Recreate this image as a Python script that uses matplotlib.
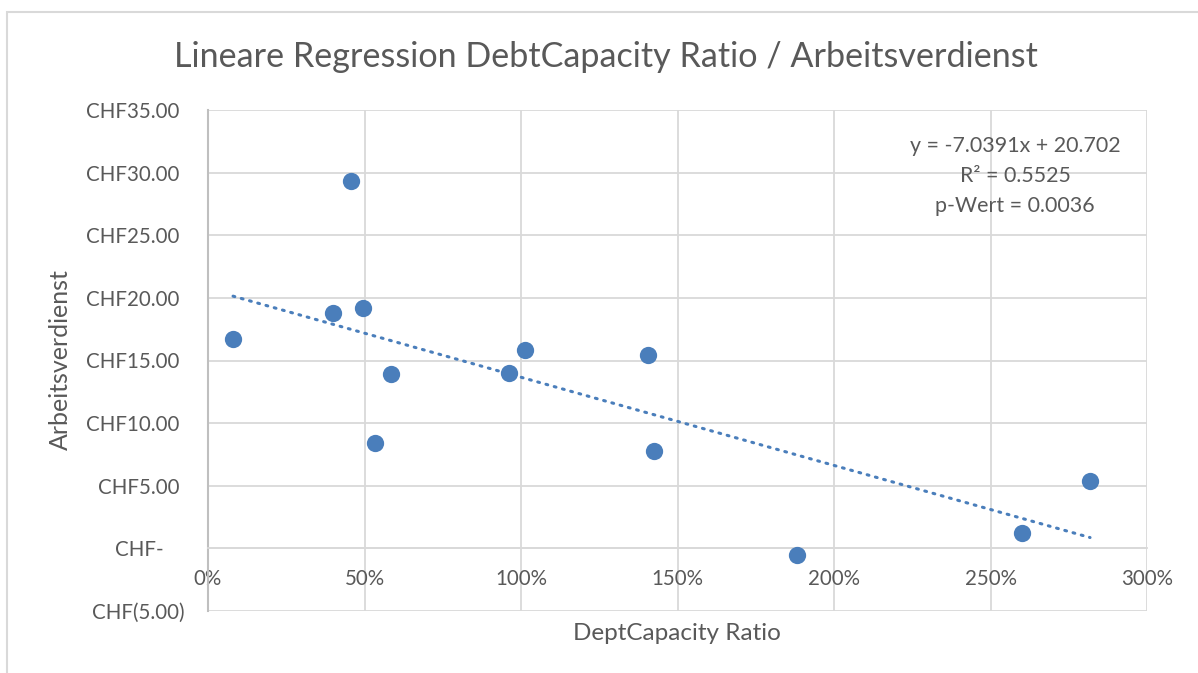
import matplotlib
matplotlib.use("Agg")
import matplotlib.pyplot as plt
import numpy as np
from matplotlib.patches import Rectangle

# data
ratio = [0.08, 0.40, 0.457, 0.495, 0.534, 0.585, 0.962, 1.013, 1.406, 1.425, 1.882, 2.60, 2.818]
verdienst = [16.75, 18.8, 29.35, 19.2, 8.45, 13.9, 14.0, 15.8, 15.4, 7.8, -0.55, 1.2, 5.35]
slope, intercept = -7.0391, 20.702
x_ticks = [0, 0.5, 1.0, 1.5, 2.0, 2.5, 3.0]
x_labels = ["0%", "50%", "100%", "150%", "200%", "250%", "300%"]
y_ticks = [-5, 0, 5, 10, 15, 20, 25, 30, 35]
y_labels = ["CHF(5.00)", "CHF-    ", "CHF5.00 ", "CHF10.00 ", "CHF15.00 ", "CHF20.00 ",
            "CHF25.00 ", "CHF30.00 ", "CHF35.00 "]

plt.rcParams['font.family'] = ['Lato', 'DejaVu Sans']
grey = '#595959'
blue = '#4a7ebb'

fig = plt.figure(figsize=(11.98, 6.73), dpi=100)
ax = fig.add_axes([208/1198, 62/673, 939/1198, 501/673])

# outer chart border
fig.patches.append(Rectangle((7/1198, -0.1), 1.2, (673-12)/673 + 0.1, transform=fig.transFigure,
                             fill=False, edgecolor='#d9d9d9', linewidth=1.5))

ax.scatter(ratio, verdienst, s=155, color=blue, zorder=3, linewidths=0)

xs = np.array([min(ratio), max(ratio)])
ax.plot(xs, slope * xs + intercept, color=blue, linewidth=2.2,
        linestyle=(0, (0.6, 2.2)), dash_capstyle='round', zorder=2)

ax.set_xlim(0, 3.0)
ax.set_ylim(-5, 35)
ax.set_xticks(x_ticks, x_labels)
ax.set_yticks(y_ticks, y_labels)
ax.grid(True, color='#d9d9d9', linewidth=1.3)
ax.set_axisbelow(True)

for s in ['top', 'right']:
    ax.spines[s].set_visible(False)
ax.spines['left'].set_color('#bfbfbf')
ax.spines['left'].set_linewidth(1.5)
ax.spines['bottom'].set_position(('data', 0))
ax.spines['bottom'].set_color('#d9d9d9')
ax.spines['bottom'].set_linewidth(1.3)
ax.tick_params(axis='both', length=0, labelsize=14.8, labelcolor=grey)
ax.tick_params(axis='x', pad=15)
ax.tick_params(axis='y', pad=17)

fig.text(606/1198, 1 - 57/673, "Lineare Regression DebtCapacity Ratio / Arbeitsverdienst",
         ha='center', va='center', fontsize=24.6, color=grey)
fig.text(677/1198, 1 - 634/673, "DeptCapacity Ratio", ha='center', va='center',
         fontsize=17.5, color=grey)
fig.text(60/1198, 1 - 360/673, "Arbeitsverdienst", ha='center', va='center',
         rotation=90, fontsize=18, color=grey)

ax.text(1015/1198, 1 - 176/673,
        "y = -7.0391x + 20.702\nR² = 0.5525\np-Wert = 0.0036",
        transform=fig.transFigure, ha='center', va='center', fontsize=15.4,
        color=grey, linespacing=1.6)

fig.savefig("out.png", dpi=100)
